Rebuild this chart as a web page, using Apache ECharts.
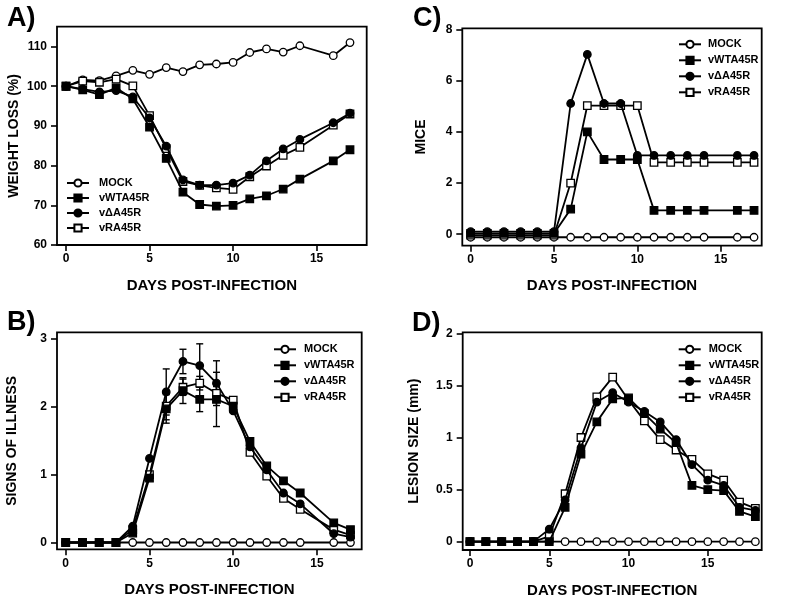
<!DOCTYPE html>
<html>
<head>
<meta charset="utf-8">
<script src="https://cdn.jsdelivr.net/npm/echarts@6/dist/echarts.min.js"></script>
<style>
html,body{margin:0;padding:0;background:#fff;}
#chart{width:785px;height:601px;}
</style>
</head>
<body>
<div id="chart"></div>
<script>
// ---------- DATA ----------
const seriesNames = ['MOCK', 'vWTA45R', 'v\u0394A45R', 'vRA45R'];

// Panel A: weight loss (%)
const daysA = [0,1,2,3,4,5,6,7,8,9,10,11,12,13,14,16,17];
const weightMock = [100,101.6,101.4,102.6,104,103,104.7,103.7,105.4,105.6,106,108.5,109.4,108.6,110.2,107.7,111];
const weightWT   = [100,99.1,97.9,99.6,96.8,89.7,81.8,73.3,70.2,69.8,70,71.6,72.4,74.1,76.6,81.2,84];
const weightDA   = [100,99.3,98.6,98.9,97.3,92.0,84.9,76.4,75.1,75.1,75.6,77.6,81.2,84.2,86.6,90.8,93.2];
const weightRA   = [100,101.3,101,101.8,100.1,92.6,84.3,76.0,75.0,74.4,74.0,77.2,79.9,82.6,84.6,90.2,93.0];
const ticksA_y = [60,70,80,90,100,110];

// Panel C: mice
const daysC = [0,1,2,3,4,5,6,7,8,9,10,11,12,13,14,16,17];
const miceMock = [-0.12,-0.12,-0.12,-0.12,-0.12,-0.12,-0.12,-0.12,-0.12,-0.12,-0.12,-0.12,-0.12,-0.12,-0.12,-0.12,-0.12];
const miceWT   = [0.03,0.03,0.03,0.03,0.03,0.03,0.98,4.0,2.92,2.92,2.92,0.93,0.93,0.93,0.93,0.93,0.93];
const miceDA   = [0.1,0.1,0.1,0.1,0.1,0.1,5.11,7.03,5.11,5.11,3.08,3.08,3.08,3.08,3.08,3.08,3.08];
const miceRA   = [-0.04,-0.04,-0.04,-0.04,-0.04,-0.04,2.0,5.03,5.03,5.03,5.03,2.81,2.81,2.81,2.81,2.81,2.81];
const ticksC_y = [0,2,4,6,8];

// Panel B: signs of illness
const daysB = [0,1,2,3,4,5,6,7,8,9,10,11,12,13,14,16,17];
const illMock = [0,0,0,0,0,0,0,0,0,0,0,0,0,0,0,0,0];
const illWT   = [0,0,0,0,0.14,0.95,1.97,2.24,2.11,2.11,2.01,1.49,1.13,0.91,0.73,0.29,0.19];
const illDA   = [0,0,0,0,0.24,1.24,2.22,2.67,2.61,2.35,1.94,1.41,1.07,0.73,0.57,0.13,0.08];
const illRA   = [0,0,0,0,0.19,1.0,2.01,2.29,2.35,2.2,2.1,1.33,0.98,0.65,0.49,0.19,0.11];
const errDays = [6,7,8,9];
const errWT = [0.21,0.19,0.18,0.4];
const errDA = [0.34,0.18,0.32,0.33];
const errRA = [0.2,0.12,0.1,0.1];
const ticksB_y = [0,1,2,3];

// Panel D: lesion size (mm)
const daysD = [0,1,2,3,4,5,6,7,8,9,10,11,12,13,14,15,16,17,18];
const lesMock = [0,0,0,0,0,0,0,0,0,0,0,0,0,0,0,0,0,0,0];
const lesWT   = [0,0,0,0,0,0,0.33,0.84,1.15,1.37,1.38,1.23,1.08,0.95,0.54,0.5,0.49,0.29,0.24];
const lesDA   = [0,0,0,0,0,0.12,0.4,0.9,1.34,1.43,1.34,1.25,1.15,0.98,0.74,0.59,0.54,0.33,0.3];
const lesRA   = [0,0,0,0,0,0.05,0.46,1.0,1.39,1.58,1.36,1.16,0.98,0.88,0.79,0.65,0.59,0.38,0.32];
const ticksD_y = [0,0.5,1,1.5,2];

const ticksX = [0,5,10,15];

// ---------- STYLE ----------
const FONT = '"Liberation Sans", Arial, Helvetica, sans-serif';
const symStyle = {
  'MOCK':        {symbol:'circle', fill:'#fff'},
  'vWTA45R':     {symbol:'rect',   fill:'#000'},
  'v\u0394A45R': {symbol:'circle', fill:'#000'},
  'vRA45R':      {symbol:'rect',   fill:'#fff'}
};

function zip(xs, ys){ return xs.map((x,i)=>[x, ys[i]]); }

function lineSeries(name, idx, xs, ys, z){
  const s = symStyle[name];
  return {
    type:'line', name:name, xAxisIndex:idx, yAxisIndex:idx,
    data: zip(xs, ys), symbol:s.symbol, symbolSize:7.5, z:z,
    showAllSymbol:true, animation:false,
    lineStyle:{color:'#000', width:1.8},
    itemStyle:{color:s.fill, borderColor:'#000', borderWidth:1.3, opacity:1},
    emphasis:{disabled:true}
  };
}

function errSeries(idx, days, xs, ys, errs, z){
  const data = days.map((d,i)=>{ const k = xs.indexOf(d); return [d, ys[k], errs[i]]; });
  return {
    type:'custom', name:'err'+z, xAxisIndex:idx, yAxisIndex:idx, z:z, animation:false,
    encode:{x:0, y:1},
    data:data,
    renderItem:function(params, api){
      const x = api.value(0), y = api.value(1), e = api.value(2);
      const t = api.coord([x, y+e]), b = api.coord([x, y-e]);
      const w = 3.5;
      const st = {stroke:'#000', lineWidth:1.4};
      return {type:'group', children:[
        {type:'line', shape:{x1:t[0], y1:t[1], x2:b[0], y2:b[1]}, style:st},
        {type:'line', shape:{x1:t[0]-w, y1:t[1], x2:t[0]+w, y2:t[1]}, style:st},
        {type:'line', shape:{x1:b[0]-w, y1:b[1], x2:b[0]+w, y2:b[1]}, style:st}
      ]};
    }
  };
}

const grids = [
  {left:57,    top:26.7,  width:309.7, height:218.3},
  {left:462.3, top:28.3,  width:299.4, height:217.4},
  {left:57,    top:332.3, width:304.7, height:217},
  {left:462.7, top:332.3, width:299,   height:217.7}
].map(g=>Object.assign(g, {show:true, borderColor:'#000', borderWidth:1.8, backgroundColor:'transparent'}));

function xAxis(idx, min, max){
  return {
    type:'value', gridIndex:idx, min:min, max:max,
    name:'DAYS POST-INFECTION', nameLocation:'middle', nameGap:33,
    nameTextStyle:{fontFamily:FONT, fontWeight:'bold', fontSize:15, color:'#000'},
    axisLine:{show:false, onZero:false},
    axisTick:{show:true, inside:false, length:6, customValues:ticksX, lineStyle:{color:'#000', width:1.6}},
    axisLabel:{customValues:ticksX, margin:8, fontFamily:FONT, fontWeight:'bold', fontSize:12, color:'#000'},
    splitLine:{show:false}
  };
}
function yAxis(idx, min, max, ticks, name, gap){
  return {
    type:'value', gridIndex:idx, min:min, max:max,
    name:name, nameLocation:'middle', nameGap:gap, nameRotate:90,
    nameTextStyle:{fontFamily:FONT, fontWeight:'bold', fontSize:14, color:'#000'},
    axisLine:{show:false, onZero:false},
    axisTick:{show:true, inside:false, length:6, customValues:ticks, lineStyle:{color:'#000', width:1.6}},
    axisLabel:{customValues:ticks, margin:10, fontFamily:FONT, fontWeight:'bold', fontSize:12, color:'#000'},
    splitLine:{show:false}
  };
}

function legend(left, top, gap, pad){
  return {
    data:seriesNames, orient:'vertical', left:left, top:top,
    itemWidth:22, itemHeight:9, itemGap:gap, padding:0,
    selectedMode:false,
    textStyle:{fontFamily:FONT, fontWeight:'bold', fontSize:11, color:'#000', lineHeight:15, padding:[0,0,0,pad]}
  };
}

function panelTitle(text, left, top){
  return {text:text, left:left, top:top, padding:0,
    textStyle:{fontFamily:FONT, fontWeight:'bold', fontSize:27, color:'#000'}};
}

const series = [];
function addPanel(idx, xs, mock, wt, da, ra){
  series.push(lineSeries('MOCK', idx, xs, mock, 2));
  series.push(lineSeries('vRA45R', idx, xs, ra, 3));
  series.push(lineSeries('v\u0394A45R', idx, xs, da, 4));
  series.push(lineSeries('vWTA45R', idx, xs, wt, 5));
}
addPanel(0, daysA, weightMock, weightWT, weightDA, weightRA);
addPanel(1, daysC, miceMock, miceWT, miceDA, miceRA);
series.push(errSeries(2, errDays, daysB, illWT, errWT, 1));
series.push(errSeries(2, errDays, daysB, illDA, errDA, 1));
series.push(errSeries(2, errDays, daysB, illRA, errRA, 1));
addPanel(2, daysB, illMock, illWT, illDA, illRA);
addPanel(3, daysD, lesMock, lesWT, lesDA, lesRA);

const option = {
  backgroundColor:'#fff',
  animation:false,
  title:[panelTitle('A)', 7, 5), panelTitle('C)', 413, 5), panelTitle('B)', 7, 309), panelTitle('D)', 412, 310)],
  grid:grids,
  xAxis:[xAxis(0,-0.54,18), xAxis(1,-0.5,17.46), xAxis(2,-0.52,17.67), xAxis(3,-0.46,18.4)],
  yAxis:[
    yAxis(0,60,115,ticksA_y,'WEIGHT LOSS (%)',36),
    yAxis(1,-0.45,8.05,ticksC_y,'MICE',34),
    yAxis(2,-0.1,3.1,ticksB_y,'SIGNS OF ILLNESS',38),
    yAxis(3,-0.08,2.01,ticksD_y,'LESION SIZE (mm)',42)
  ],
  legend:[legend(66,175.5,0,5), legend(678,36.8,1,2), legend(273,341.8,1,3), legend(677.7,341.8,1,3)],
  series:series
};

const chart = echarts.init(document.getElementById('chart'), null, {renderer:'canvas'});
chart.setOption(option);
</script>
</body>
</html>
